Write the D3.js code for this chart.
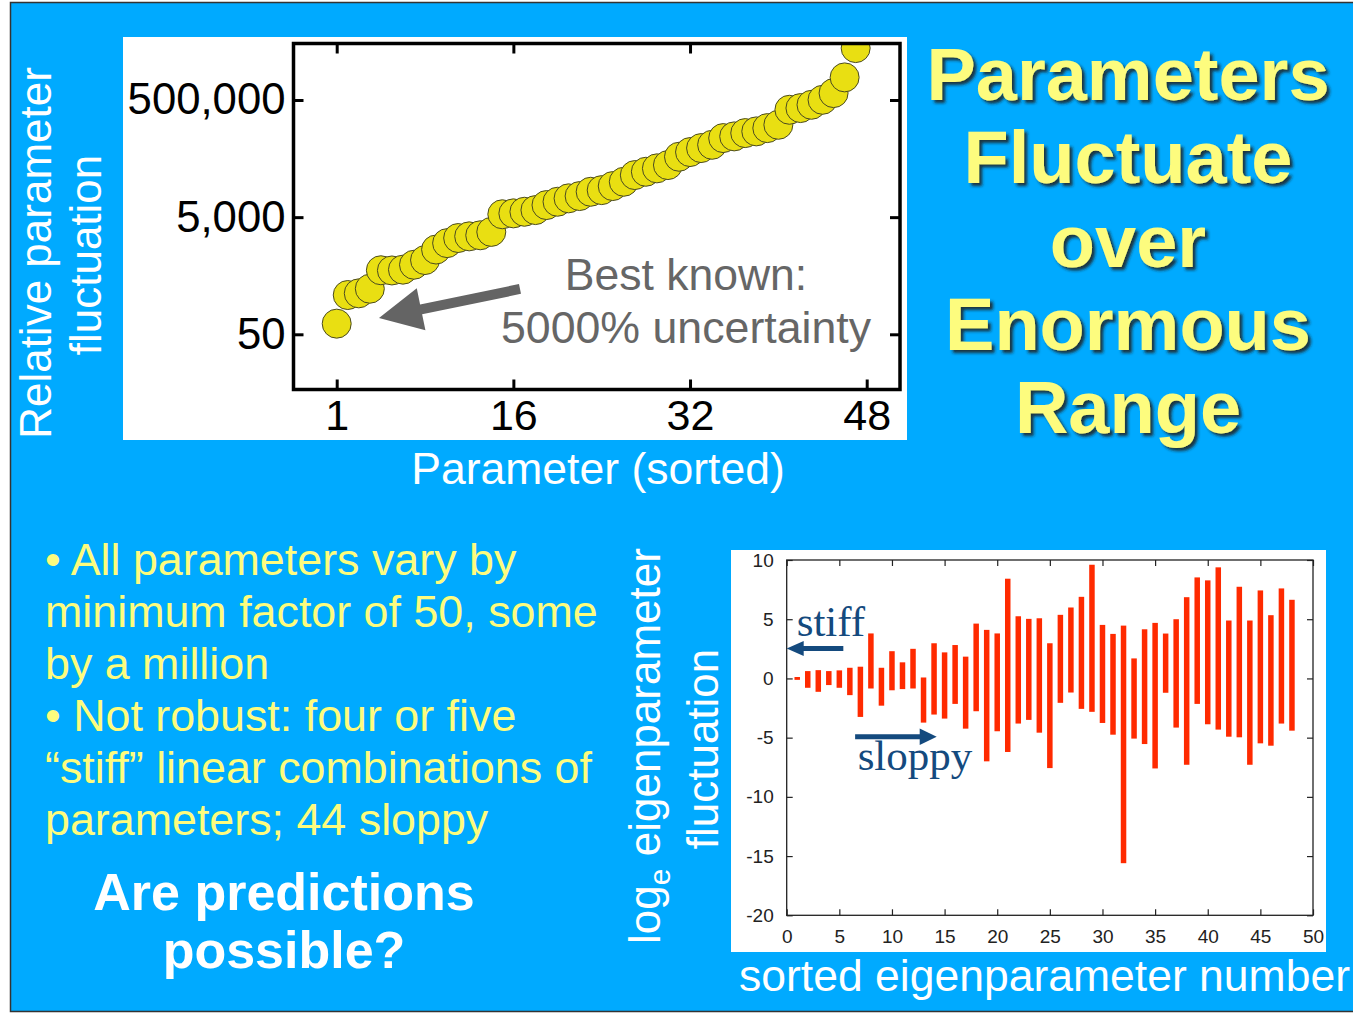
<!DOCTYPE html>
<html><head><meta charset="utf-8">
<script src="https://cdn.jsdelivr.net/npm/d3@7"></script>
<style>
html,body{margin:0;padding:0;background:#fff;}
svg{display:block;}
text{font-family:"Liberation Sans",Arial,Helvetica,sans-serif;}
</style></head><body>
<svg id="c" width="1353" height="1015"></svg>
<script>
// ---------------- DATA ----------------
// Top chart: relative parameter fluctuation, sorted (48 parameters)
const topValues = [76, 234, 250, 300, 620, 615, 635, 770, 925, 1400, 1800, 2200, 2350, 2450, 2800,
  5600, 5800, 6180, 6600, 8040, 9160, 10470, 11460, 13560, 14470, 16970, 20100, 26130, 29770,
  34030, 38740, 53690, 64560, 75500, 85990, 111900, 119600, 136200, 145600, 165600, 188700,
  340400, 363900, 414200, 503900, 655600, 1216000, 3846000];
const topXTickPos = [0, 16, 32, 48];
const topXTickLabels = ["1", "16", "32", "48"];
const topYTicks = [50, 5000, 500000];

// Bottom chart: log_e eigenparameter fluctuation ranges (48 eigenparameters)
const eigenIndex = [1,2,3,4,5,6,7,8,9,10,11,12,13,14,15,16,17,18,19,20,21,22,23,24,25,26,27,28,29,30,
  31,32,33,34,35,36,37,38,39,40,41,42,43,44,45,46,47,48];
const eigenHigh = [0.12, 0.62, 0.7, 0.62, 0.68, 0.9, 0.99, 3.8, 0.9, 2.3, 1.36, 2.5, 0.08, 2.97, 2.2,
  2.82, 1.84, 4.63, 4.1, 3.8, 8.42, 5.25, 5.03, 5.08, 2.97, 5.37, 5.99, 6.89, 9.6, 4.52, 3.76, 4.46,
  1.69, 4.15, 4.69, 3.79, 5.0, 6.86, 8.53, 8.28, 9.38, 4.89, 7.74, 4.89, 7.43, 5.34, 7.6, 6.64];
const eigenLow = [-0.12, -0.79, -1.13, -0.56, -0.79, -1.41, -3.25, -0.85, -2.3, -1.0, -0.9, -0.85,
  -3.73, -3.05, -3.39, -2.15, -4.24, -2.77, -7.0, -4.46, -6.21, -3.81, -3.5, -4.58, -7.57, -2.06,
  -1.19, -2.57, -2.82, -3.76, -4.75, -15.6, -5.08, -5.54, -7.6, -1.21, -4.15, -7.29, -2.15, -3.87,
  -4.32, -4.92, -4.97, -7.29, -5.48, -5.68, -3.81, -4.41];
const botXTicks = [0, 5, 10, 15, 20, 25, 30, 35, 40, 45, 50];
const botYTicks = [-20, -15, -10, -5, 0, 5, 10];

const titleLines = ["Parameters", "Fluctuate", "over", "Enormous", "Range"];
const bulletLines = ["\u2022 All parameters vary by", "minimum factor of 50, some", "by a million",
  "\u2022 Not robust: four or five", "\u201Cstiff\u201D linear combinations of", "parameters; 44 sloppy"];
const questionLines = ["Are predictions", "possible?"];

// ---------------- DRAW ----------------
const svg = d3.select("#c");
const BLUE = "#00aaff", YEL = "#fdfc7e";

const defs = svg.append("defs");
const f = defs.append("filter").attr("id", "sh").attr("x", "-10%").attr("y", "-10%").attr("width", "130%").attr("height", "140%");
f.append("feDropShadow").attr("dx", 3).attr("dy", 3).attr("stdDeviation", 1.6).attr("flood-color", "#1a1a1a").attr("flood-opacity", 0.85);

svg.append("rect").attr("x", 10.5).attr("y", 2.5).attr("width", 1350).attr("height", 1009)
  .attr("fill", BLUE).attr("stroke", "#333").attr("stroke-width", 1.5);

function arrowPoints(x1, y1, x2, y2, sh, hl, hh) {
  const L = Math.hypot(x2 - x1, y2 - y1), ux = (x2 - x1) / L, uy = (y2 - y1) / L;
  const nx = -uy, ny = ux, bx = x2 - ux * hl, by = y2 - uy * hl;
  return [[x1 + nx * sh, y1 + ny * sh], [bx + nx * sh, by + ny * sh], [bx + nx * hh, by + ny * hh], [x2, y2],
    [bx - nx * hh, by - ny * hh], [bx - nx * sh, by - ny * sh], [x1 - nx * sh, y1 - ny * sh]].map(p => p.join(",")).join(" ");
}

// ===== TOP CHART =====
svg.append("rect").attr("x", 123).attr("y", 37).attr("width", 784).attr("height", 403).attr("fill", "#fff");
const P = {l: 293.5, t: 43.5, r: 900, b: 389.5};
const xT = d3.scaleLinear().domain([0, 48]).range([336.7, 866.7]);
const yT = d3.scaleLog().domain([50, 500000]).range([334.3, 100]);

defs.append("clipPath").attr("id", "clipT").append("rect")
  .attr("x", P.l).attr("y", P.t).attr("width", P.r - P.l).attr("height", P.b - P.t);

const gT = svg.append("g");
const styleAx = (g, fs, col, sw) => {
  g.select(".domain").remove();
  g.selectAll("line").attr("stroke", "#000").attr("stroke-width", sw);
  g.selectAll("text").attr("font-size", fs).attr("fill", col).attr("font-family", "Liberation Sans, Arial, sans-serif");
};
gT.append("g").attr("transform", `translate(${P.l},0)`)
  .call(d3.axisLeft(yT).tickValues(topYTicks).tickFormat(d3.format(",")).tickSize(-10).tickPadding(8))
  .call(g => styleAx(g, 43.7, "#000", 3));
gT.append("g").attr("transform", `translate(${P.r},0)`)
  .call(d3.axisRight(yT).tickValues(topYTicks).tickFormat("").tickSize(-10))
  .call(g => styleAx(g, 43, "#000", 3));
gT.append("g").attr("transform", `translate(0,${P.b})`)
  .call(d3.axisBottom(xT).tickValues(topXTickPos).tickFormat((d, i) => topXTickLabels[i]).tickSize(-10).tickPadding(10))
  .call(g => styleAx(g, 43, "#000", 3));
gT.append("g").attr("transform", `translate(0,${P.t})`)
  .call(d3.axisTop(xT).tickValues(topXTickPos).tickFormat("").tickSize(-10))
  .call(g => styleAx(g, 43, "#000", 3));

gT.append("g").attr("clip-path", "url(#clipT)")
  .selectAll("circle").data(topValues).join("circle")
  .attr("cx", (d, i) => xT(i)).attr("cy", d => yT(d)).attr("r", 14.5)
  .attr("fill", "#e9df12").attr("stroke", "#4a4a20").attr("stroke-width", 1);

gT.append("rect").attr("x", P.l).attr("y", P.t).attr("width", P.r - P.l).attr("height", P.b - P.t)
  .attr("fill", "none").attr("stroke", "#000").attr("stroke-width", 3.5);

// annotation arrow (data coords)
gT.append("polygon").attr("fill", "#646464")
  .attr("points", arrowPoints(xT(16.6), yT(297), xT(3.83), yT(95), 5, 43, 21.5));
gT.append("text").attr("x", 686).attr("y", 290).attr("text-anchor", "middle")
  .attr("font-size", 44.5).attr("fill", "#666").text("Best known:");
gT.append("text").attr("x", 686).attr("y", 343).attr("text-anchor", "middle")
  .attr("font-size", 44.7).attr("fill", "#666").text("5000% uncertainty");

// axis titles (white on blue)
svg.append("text").attr("transform", "translate(51,253) rotate(-90)").attr("text-anchor", "middle")
  .attr("font-size", 44).attr("fill", "#fff").text("Relative parameter");
svg.append("text").attr("transform", "translate(101,255) rotate(-90)").attr("text-anchor", "middle")
  .attr("font-size", 44).attr("fill", "#fff").text("fluctuation");
svg.append("text").attr("x", 598).attr("y", 484).attr("text-anchor", "middle")
  .attr("font-size", 44.5).attr("fill", "#fff").text("Parameter (sorted)");

// ===== TITLE =====
svg.append("g").attr("filter", "url(#sh)").selectAll("text").data(titleLines).join("text")
  .attr("x", 1128).attr("y", (d, i) => 100 + i * 83.3).attr("text-anchor", "middle")
  .attr("font-size", 74).attr("font-weight", "bold").attr("fill", YEL).text(d => d);

// ===== BULLETS =====
svg.append("g").selectAll("text").data(bulletLines).join("text")
  .attr("x", 45).attr("y", (d, i) => 575 + i * 52).attr("font-size", 44.8).attr("fill", YEL).text(d => d);
svg.append("g").selectAll("text").data(questionLines).join("text")
  .attr("x", 284).attr("y", (d, i) => 910 + i * 58).attr("text-anchor", "middle")
  .attr("font-size", 52).attr("font-weight", "bold").attr("fill", "#fff").text(d => d);

// ===== BOTTOM CHART =====
svg.append("rect").attr("x", 731).attr("y", 550).attr("width", 595).attr("height", 402).attr("fill", "#fff");
const B = {l: 786.7, t: 560, r: 1313, b: 915.3};
const xB = d3.scaleLinear().domain([0, 50]).range([B.l, B.r]);
const yB = d3.scaleLinear().domain([-20, 10]).range([B.b, B.t]);
const gB = svg.append("g");
const styleB = g => {
  g.select(".domain").remove();
  g.selectAll("line").attr("stroke", "#222").attr("stroke-width", 1.2);
  g.selectAll("text").attr("font-size", 19).attr("fill", "#222").attr("font-family", "Liberation Sans, Arial, sans-serif");
};
gB.append("g").attr("transform", `translate(${B.l},0)`)
  .call(d3.axisLeft(yB).tickValues(botYTicks).tickFormat(d => String(d)).tickSize(-6).tickPadding(13)).call(styleB);
gB.append("g").attr("transform", `translate(${B.r},0)`)
  .call(d3.axisRight(yB).tickValues(botYTicks).tickFormat("").tickSize(-6)).call(styleB);
gB.append("g").attr("transform", `translate(0,${B.b})`)
  .call(d3.axisBottom(xB).tickValues(botXTicks).tickFormat(d => String(d)).tickSize(-6).tickPadding(14)).call(styleB);
gB.append("g").attr("transform", `translate(0,${B.t})`)
  .call(d3.axisTop(xB).tickValues(botXTicks).tickFormat("").tickSize(-6)).call(styleB);
gB.append("rect").attr("x", B.l).attr("y", B.t).attr("width", B.r - B.l).attr("height", B.b - B.t)
  .attr("fill", "none").attr("stroke", "#222").attr("stroke-width", 1.3);

gB.append("g").selectAll("rect").data(eigenIndex).join("rect")
  .attr("x", d => xB(d) - 2.75).attr("width", 5.5)
  .attr("y", (d, i) => yB(eigenHigh[i])).attr("height", (d, i) => yB(eigenLow[i]) - yB(eigenHigh[i]))
  .attr("fill", "#ff2a00");

const NAVY = "#144a7e";
gB.append("text").attr("x", xB(0.95)).attr("y", yB(3.6)).attr("font-size", 43)
  .style("font-family", "Liberation Serif, Times New Roman, serif")
  .attr("fill", NAVY).text("stiff");
gB.append("polygon").attr("fill", NAVY).attr("points", arrowPoints(xB(5.38), yB(2.53), xB(0), yB(2.53), 2.5, 17, 7.5));
gB.append("text").attr("x", xB(6.74)).attr("y", yB(-7.75)).attr("font-size", 43)
  .style("font-family", "Liberation Serif, Times New Roman, serif")
  .attr("fill", NAVY).text("sloppy");
gB.append("polygon").attr("fill", NAVY).attr("points", arrowPoints(xB(6.5), yB(-4.92), xB(14.25), yB(-4.92), 2.5, 17, 8.3));

// bottom axis titles
const yl = svg.append("text").attr("transform", "translate(660,746) rotate(-90)").attr("text-anchor", "middle")
  .attr("font-size", 44).attr("fill", "#fff");
yl.append("tspan").text("log");
yl.append("tspan").attr("font-size", 30).attr("dy", 10).text("e");
yl.append("tspan").attr("dy", -10).text(" eigenparameter");
svg.append("text").attr("transform", "translate(718,749) rotate(-90)").attr("text-anchor", "middle")
  .attr("font-size", 44).attr("fill", "#fff").text("fluctuation");
svg.append("text").attr("x", 739).attr("y", 991).attr("font-size", 44.5).attr("fill", "#fff")
  .text("sorted eigenparameter number");
</script>
</body></html>
